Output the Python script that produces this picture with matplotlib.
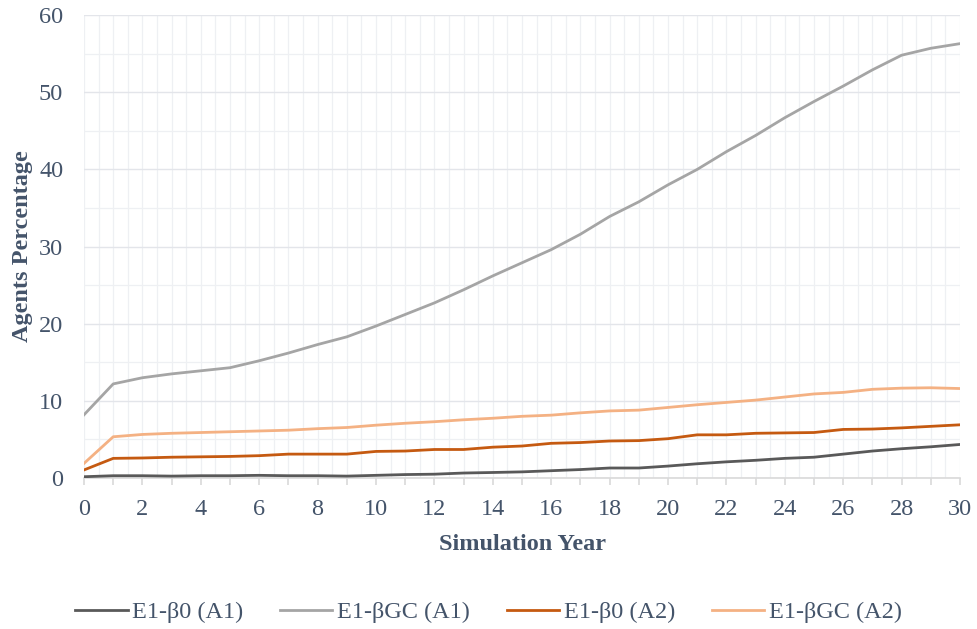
import matplotlib
matplotlib.use("Agg")
import matplotlib.pyplot as plt
from matplotlib.ticker import MultipleLocator

years = list(range(31))

e1_b0_a1 = [0.17, 0.3, 0.3, 0.25, 0.3, 0.3, 0.35, 0.3, 0.3, 0.25, 0.35,
            0.45, 0.5, 0.65, 0.72, 0.8, 0.95, 1.1, 1.3, 1.3, 1.55,
            1.85, 2.1, 2.3, 2.55, 2.7, 3.1, 3.5, 3.8, 4.05, 4.35]
e1_bgc_a1 = [8.2, 12.2, 13.0, 13.5, 13.9, 14.3, 15.2, 16.2, 17.3, 18.3, 19.7,
             21.2, 22.7, 24.4, 26.2, 27.9, 29.6, 31.6, 33.9, 35.8, 38.0,
             40.0, 42.3, 44.4, 46.7, 48.8, 50.8, 52.9, 54.8, 55.7, 56.3]
e1_b0_a2 = [1.05, 2.55, 2.6, 2.7, 2.75, 2.8, 2.9, 3.1, 3.1, 3.1, 3.45,
            3.5, 3.7, 3.7, 4.0, 4.15, 4.5, 4.6, 4.8, 4.85, 5.1,
            5.6, 5.6, 5.8, 5.85, 5.9, 6.3, 6.35, 6.5, 6.7, 6.9]
e1_bgc_a2 = [1.9, 5.35, 5.65, 5.8, 5.9, 6.0, 6.1, 6.2, 6.4, 6.55, 6.85,
             7.1, 7.3, 7.55, 7.75, 8.0, 8.15, 8.45, 8.7, 8.8, 9.15,
             9.5, 9.8, 10.1, 10.5, 10.9, 11.1, 11.5, 11.65, 11.7, 11.6]

labels = ["E1-β0 (A1)", "E1-βGC (A1)", "E1-β0 (A2)", "E1-βGC (A2)"]
colors = ["#595959", "#A5A5A5", "#C55A11", "#F4B183"]
TEXT = "#44546A"
FS = 17.5

plt.rcParams["font.family"] = ["Liberation Serif", "DejaVu Serif"]

fig = plt.figure(figsize=(9.77, 6.29), dpi=100)
ax = fig.add_axes([0.086, 0.24, 0.8966, 0.736])

for series, label, color in zip([e1_b0_a1, e1_bgc_a1, e1_b0_a2, e1_bgc_a2], labels, colors):
    ax.plot(years, series, color=color, linewidth=2.0, label=label, zorder=3)

ax.set_xlim(0, 30)
ax.set_ylim(0, 60)
ax.xaxis.set_minor_locator(MultipleLocator(0.5))
ax.yaxis.set_major_locator(MultipleLocator(10))
ax.yaxis.set_minor_locator(MultipleLocator(5))

ax.grid(which="major", axis="y", color="#E3E5EA", linewidth=1.0)
ax.grid(which="minor", axis="y", color="#EEF0F3", linewidth=0.9)
ax.grid(which="both", axis="x", color="#EEF0F3", linewidth=0.9)
ax.set_axisbelow(True)

for side in ["top", "right", "left"]:
    ax.spines[side].set_visible(False)
ax.spines["bottom"].set_color("#D9D9D9")
ax.spines["bottom"].set_linewidth(1.2)

ax.tick_params(axis="y", which="both", length=0, colors=TEXT, labelsize=FS, pad=15)
ax.tick_params(axis="x", which="major", length=5, width=1.2, color="#D9D9D9",
               labelcolor=TEXT, labelsize=FS, pad=10)
ax.tick_params(axis="x", which="minor", length=0)
# tick marks at every year, labels on even years
ax.set_xticks(years)
ax.set_xticklabels([str(y) if y % 2 == 0 else "" for y in years])

ax.set_xlabel("Simulation Year", fontsize=FS, fontweight="bold", color=TEXT, labelpad=10)
ax.set_ylabel("Agents Percentage", fontsize=FS, fontweight="bold", color=TEXT, labelpad=4)

fig.legend(loc="center", bbox_to_anchor=(0.5, 0.027), ncol=4, frameon=False,
           fontsize=FS, labelcolor=TEXT, handlelength=2.15, columnspacing=1.5,
           handletextpad=0.2)

fig.savefig("out.png", dpi=100)
